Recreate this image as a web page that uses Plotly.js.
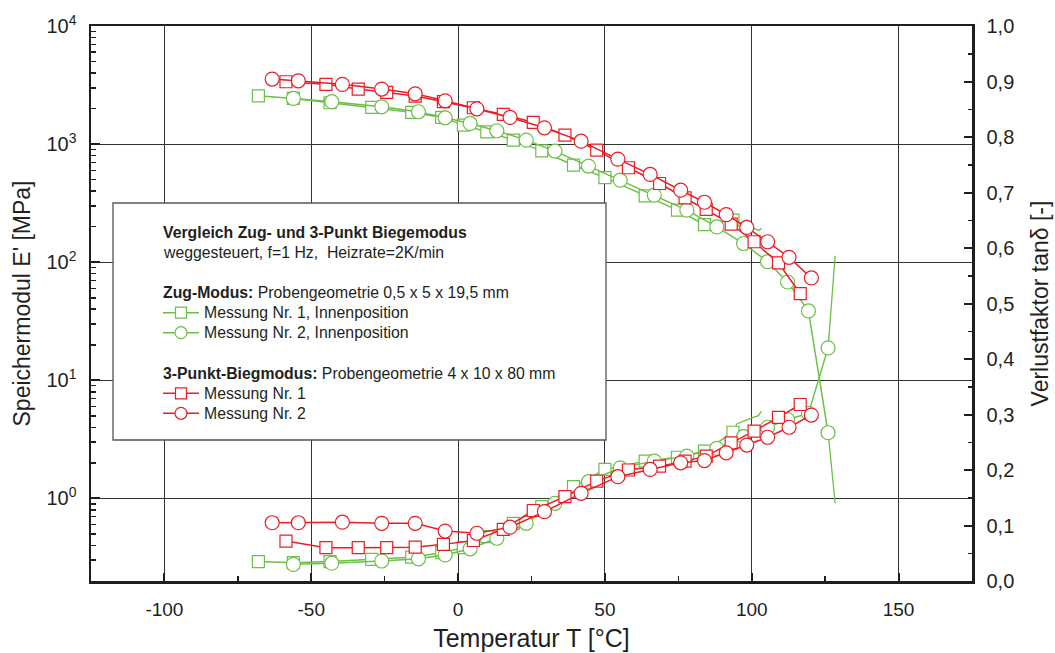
<!DOCTYPE html>
<html>
<head>
<meta charset="utf-8">
<script src="https://cdn.plot.ly/plotly-3.0.1.min.js"></script>
<style>
  html, body { margin: 0; padding: 0; background: #fff; }
  #chart { width: 1055px; height: 653px; }
</style>
</head>
<body>
<div id="chart"></div>
<script>
// ---------------- data ----------------
// Zug-Modus, Messung Nr. 1 (green squares)
const zug1T   = [-68, -56.1, -43.6, -29.4, -15.8, -5.6, 1.8, 9.8, 18.8, 28.5, 39.3, 50, 63.7, 74.7, 83.9, 93.6];
const zug1E   = [2565, 2438, 2239, 2046, 1857, 1683, 1448, 1271, 1081, 877, 663, 520, 365, 276, 208, 227];
const zug1Tan = [0.035, 0.033, 0.035, 0.039, 0.043, 0.051, 0.060, 0.080, 0.104, 0.134, 0.170, 0.201, 0.216, 0.223, 0.234, 0.268];
const zug1TailT   = [93.6, 102.5, 103.3];
const zug1TailE   = [227, 186, 194];
const zug1TanTailT = [93.6, 94.9, 99.5, 102.3, 103.3];
const zug1TanTail  = [0.268, 0.283, 0.293, 0.298, 0.306];

// Zug-Modus, Messung Nr. 2 (green circles)
const zug2T   = [-56.1, -43, -26, -13.5, -4.4, 4.1, 13.2, 23.2, 33, 44.4, 55.2, 66.8, 77.9, 88.1, 97.2, 105.4, 112.2, 119.3, 126];
const zug2E   = [2438, 2286, 2070, 1879, 1671, 1496, 1297, 1081, 873, 652, 495, 370, 276, 199, 144, 101, 68, 38.7, 3.6];
const zug2Tan = [0.030, 0.032, 0.036, 0.040, 0.047, 0.058, 0.077, 0.104, 0.140, 0.179, 0.204, 0.216, 0.225, 0.239, 0.260, 0.277, 0.291, 0.302, 0.42];
const zug2TailT   = [126, 128.4];
const zug2TailE   = [3.6, 0.91];
const zug2TanTailT = [126, 127.2, 128.4];
const zug2TanTail  = [0.42, 0.50, 0.586];

// 3-Punkt-Biegmodus, Messung Nr. 1 (red squares)
const b1T   = [-58.6, -45, -34, -24.3, -14.6, -5, 5.2, 15.4, 25.6, 36.4, 47.2, 58, 68.6, 77.3, 84.5, 93, 100.8, 109.1, 116.5];
const b1E   = [3373, 3206, 2926, 2742, 2553, 2286, 2032, 1786, 1528, 1191, 889, 631, 464, 351, 280, 210, 149, 98.6, 54.3];
const b1Tan = [0.072, 0.060, 0.060, 0.060, 0.061, 0.066, 0.073, 0.093, 0.127, 0.152, 0.180, 0.200, 0.207, 0.216, 0.225, 0.249, 0.270, 0.295, 0.318];

// 3-Punkt-Biegmodus, Messung Nr. 2 (red circles)
const b2T   = [-63.3, -54.4, -39.4, -26, -14.6, -4.4, 6.4, 17.7, 29.4, 41.9, 54.4, 65.4, 75.8, 83.9, 91.3, 98.3, 105.4, 112.7, 120.3];
const b2E   = [3556, 3435, 3206, 2926, 2667, 2327, 1991, 1683, 1374, 1059, 746, 554, 407, 322, 253, 197, 149, 110, 73.6];
const b2Tan = [0.105, 0.105, 0.106, 0.104, 0.104, 0.090, 0.086, 0.097, 0.125, 0.158, 0.188, 0.201, 0.213, 0.217, 0.231, 0.245, 0.259, 0.277, 0.299];

// tick labels
const xTickVals = [-100, -50, 0, 50, 100, 150];
const xTickText = ['-100', '-50', '0', '50', '100', '150'];
const yTickVals = [1, 10, 100, 1000, 10000];
const yTickText = ['10<sup>0</sup>', '10<sup>1</sup>', '10<sup>2</sup>', '10<sup>3</sup>', '10<sup>4</sup>'];

// legend texts
const legendTitle1 = '<b>Vergleich Zug- und 3-Punkt Biegemodus</b>';
const legendTitle2 = 'weggesteuert, f=1 Hz, \u00a0Heizrate=2K/min';
const legendGroup1 = '<b>Zug-Modus:</b> Probengeometrie 0,5 x 5 x 19,5 mm';
const legendGroup2 = '<b>3-Punkt-Biegmodus:</b> Probengeometrie 4 x 10 x 80 mm';
const seriesNames = ['Messung Nr. 1, Innenposition', 'Messung Nr. 2, Innenposition', 'Messung Nr. 1', 'Messung Nr. 2'];

// ---------------- styling ----------------
const RED = '#ec1c24';
const GREEN = '#6cbf47';
const FONT = 'Liberation Sans, Arial, Helvetica, sans-serif';
const AX = '#1e1e1e';

function mk(x, y, color, symbol, yaxis, size) {
  return {
    type: 'scatter', mode: 'lines+markers', x: x, y: y, yaxis: yaxis,
    line: { color: color, width: 1.5 },
    marker: { symbol: symbol, size: size, color: '#ffffff', line: { color: color, width: 1.2 } },
    showlegend: false, hoverinfo: 'skip'
  };
}
function tail(x, y, color, yaxis) {
  return {
    type: 'scatter', mode: 'lines', x: x, y: y, yaxis: yaxis,
    line: { color: color, width: 1.3 }, showlegend: false, hoverinfo: 'skip'
  };
}

const data = [
  tail(zug1TailT, zug1TailE, GREEN, 'y'),
  tail(zug1TanTailT, zug1TanTail, GREEN, 'y2'),
  tail(zug2TailT, zug2TailE, GREEN, 'y'),
  tail(zug2TanTailT, zug2TanTail, GREEN, 'y2'),
  mk(zug1T, zug1E, GREEN, 'square', 'y', 12),
  mk(zug1T, zug1Tan, GREEN, 'square', 'y2', 12),
  mk(zug2T, zug2E, GREEN, 'circle', 'y', 14),
  mk(zug2T, zug2Tan, GREEN, 'circle', 'y2', 14),
  mk(b1T, b1E, RED, 'square', 'y', 12),
  mk(b1T, b1Tan, RED, 'square', 'y2', 12),
  mk(b2T, b2E, RED, 'circle', 'y', 14),
  mk(b2T, b2Tan, RED, 'circle', 'y2', 14)
];

// plot-area pixel frame -> paper coords for the legend box
const PL = 91, PR = 972, PT = 26, PB = 581;
const px = v => (v - PL) / (PR - PL);
const py = v => (PB - v) / (PB - PT);

const yMinor = [];
[0.1, 1, 10, 100, 1000].forEach(d => { for (let k = 2; k <= 9; k++) { const v = d * k; if (v >= 0.2 && v < 10000) yMinor.push(+v.toPrecision(3)); } });

const shapes = [{
  type: 'rect', xref: 'paper', yref: 'paper', layer: 'above',
  x0: px(113), x1: px(606), y0: py(440), y1: py(203),
  fillcolor: '#ffffff', line: { color: '#555555', width: 1.3 }
}];
const annotations = [];
function txt(t, x, y) {
  annotations.push({ xref: 'paper', yref: 'paper', x: px(x), y: py(y), xanchor: 'left', yanchor: 'middle',
    text: t, showarrow: false, font: { family: FONT, size: 15.8, color: '#231f20' } });
}
txt(legendTitle1, 161, 232.7);
txt(legendTitle2, 161, 252.7);
txt(legendGroup1, 161, 292.7);
txt(legendGroup2, 161, 373.3);
const legendItems = [
  { color: GREEN, sym: 'rect', y: 312.7 },
  { color: GREEN, sym: 'circle', y: 332.7 },
  { color: RED, sym: 'rect', y: 393.3 },
  { color: RED, sym: 'circle', y: 413.3 }
];
legendItems.forEach((it, i) => {
  shapes.push({ type: 'line', xref: 'paper', yref: 'paper', layer: 'above',
    x0: px(163), x1: px(199), y0: py(it.y), y1: py(it.y), line: { color: it.color, width: 1.5 } });
  const h = it.sym === 'rect' ? 5.5 : 6;
  shapes.push({ type: it.sym, xref: 'paper', yref: 'paper', layer: 'above',
    xsizemode: 'pixel', ysizemode: 'pixel', xanchor: px(181), yanchor: py(it.y),
    x0: -h, x1: h, y0: -h, y1: h, fillcolor: '#ffffff', line: { color: it.color, width: 1.2 } });
  txt(seriesNames[i], 202, it.y);
});

const layout = {
  width: 1055, height: 653,
  margin: { l: PL, r: 1055 - PR, t: PT, b: 653 - PB, pad: 0 },
  paper_bgcolor: '#ffffff', plot_bgcolor: '#ffffff',
  separators: ', ',
  font: { family: FONT, color: '#231f20' },
  showlegend: false,
  xaxis: {
    range: [-125, 175], tickmode: 'array', tickvals: xTickVals, ticktext: xTickText,
    ticks: 'inside', ticklen: 8, tickwidth: 2, tickcolor: AX,
    showline: true, linewidth: 2.5, linecolor: AX, mirror: true,
    showgrid: true, gridcolor: '#333333', gridwidth: 1, zeroline: false,
    minor: { tickmode: 'array', tickvals: [-75, -25, 25, 75, 125], ticks: 'inside', ticklen: 5, tickwidth: 1.5, tickcolor: AX, showgrid: false },
    tickfont: { family: FONT, size: 19, color: '#231f20' }, ticklabelstandoff: 10,
    title: { text: 'Temperatur T [°C]', font: { family: FONT, size: 25, color: '#231f20' }, standoff: 10 },
    automargin: false
  },
  yaxis: {
    type: 'log', range: [Math.log10(0.2), 4], tickmode: 'array', tickvals: yTickVals, ticktext: yTickText,
    ticks: 'inside', ticklen: 9, tickwidth: 2, tickcolor: AX,
    showline: true, linewidth: 2.5, linecolor: AX,
    showgrid: true, gridcolor: '#333333', gridwidth: 1, zeroline: false,
    minor: { tickmode: 'array', tickvals: yMinor, ticks: 'inside', ticklen: 5, tickwidth: 1.5, tickcolor: AX, showgrid: false },
    tickfont: { family: FONT, size: 20, color: '#231f20' }, ticklabelstandoff: 8,
    title: { text: "Speichermodul E' [MPa]", font: { family: FONT, size: 23, color: '#231f20' }, standoff: 10 },
    automargin: false
  },
  yaxis2: {
    overlaying: 'y', side: 'right', range: [0, 1], tickmode: 'linear', tick0: 0, dtick: 0.1, tickformat: '.1f',
    ticks: 'inside', ticklen: 8, tickwidth: 2, tickcolor: AX,
    showline: true, linewidth: 2.5, linecolor: AX,
    showgrid: false, zeroline: false,
    minor: { dtick: 0.05, ticks: 'inside', ticklen: 4, tickwidth: 1.5, tickcolor: AX, showgrid: false },
    tickfont: { family: FONT, size: 20, color: '#231f20' }, ticklabelstandoff: 8,
    title: { text: 'Verlustfaktor tanδ [-]', font: { family: FONT, size: 23, color: '#231f20' }, standoff: 19 },
    automargin: false
  },
  shapes: shapes,
  annotations: annotations
};

Plotly.newPlot('chart', data, layout, { staticPlot: true, displayModeBar: false });
</script>
</body>
</html>
